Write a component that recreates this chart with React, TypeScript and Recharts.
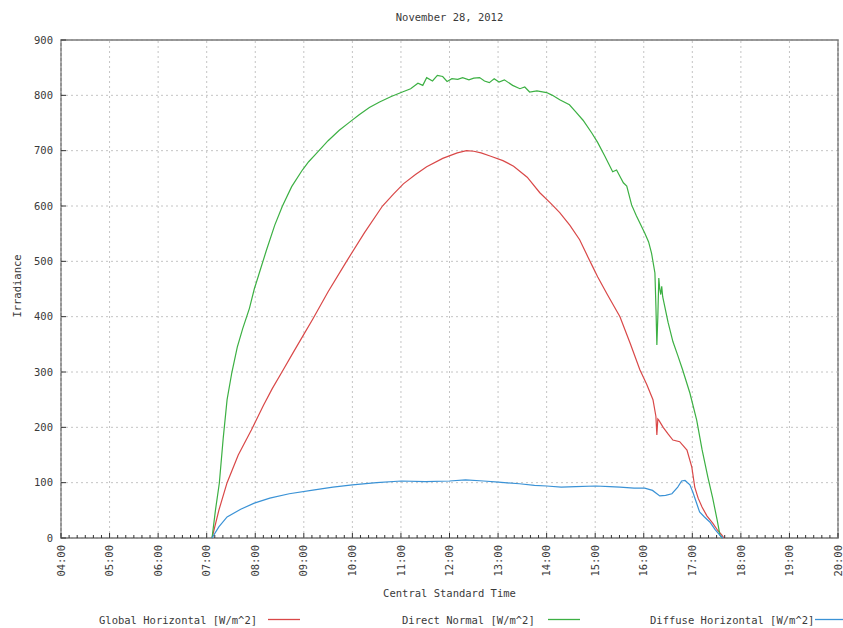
import React from 'react';
import {
  LineChart, Line, XAxis, YAxis, CartesianGrid, ReferenceLine, ReferenceArea,
} from 'recharts';

// ---- data (time in decimal hours, Central Standard Time) ----
const globalT = [7.11, 7.25, 7.42, 7.65, 7.92, 8.17, 8.35, 8.55, 8.78, 9.0, 9.18, 9.5, 9.88, 10.25, 10.62, 10.85, 11.05, 11.3, 11.53, 11.86, 12.16, 12.35, 12.5, 12.65, 12.85, 13.1, 13.32, 13.6, 13.86, 14.07, 14.27, 14.48, 14.68, 14.85, 14.95, 15.05, 15.25, 15.51, 15.72, 15.92, 16.06, 16.19, 16.25, 16.27, 16.29, 16.31, 16.4, 16.5, 16.6, 16.74, 16.89, 16.99, 17.05, 17.12, 17.2, 17.3, 17.42, 17.52, 17.61, 17.65];
const globalV = [0, 50, 100, 150, 195, 240, 270, 300, 335, 368, 395, 445, 500, 552, 600, 622, 640, 657, 671, 686, 696, 700, 699, 696, 690, 682, 672, 652, 624, 606, 588, 565, 539, 508, 490, 472, 440, 400, 352, 304, 278, 250, 220, 186, 215, 213, 200, 188, 177, 174, 159, 128, 92, 72, 56, 40, 27, 14, 5, 0];

const directT = [7.11, 7.18, 7.26, 7.34, 7.42, 7.52, 7.63, 7.74, 7.88, 7.98, 8.08, 8.23, 8.4, 8.56, 8.75, 8.97, 9.1, 9.26, 9.5, 9.73, 9.95, 10.14, 10.35, 10.56, 10.8, 11.03, 11.2, 11.35, 11.45, 11.53, 11.65, 11.75, 11.86, 11.95, 12.05, 12.17, 12.27, 12.4, 12.5, 12.62, 12.72, 12.82, 12.92, 13.02, 13.13, 13.3, 13.45, 13.55, 13.65, 13.8, 14.0, 14.12, 14.27, 14.47, 14.6, 14.75, 14.93, 15.05, 15.2, 15.36, 15.44, 15.5, 15.58, 15.65, 15.75, 15.85, 16.02, 16.1, 16.16, 16.23, 16.25, 16.27, 16.29, 16.31, 16.33, 16.35, 16.37, 16.39, 16.5, 16.6, 16.7, 16.8, 16.95, 17.09, 17.2, 17.32, 17.42, 17.51, 17.57, 17.62];
const directV = [0, 50, 99, 180, 250, 300, 345, 378, 415, 450, 478, 520, 565, 600, 635, 665, 680, 695, 718, 737, 752, 765, 778, 788, 798, 806, 812, 822, 818, 832, 826, 836, 834, 825, 830, 829, 832, 828, 831, 832, 826, 823, 830, 824, 828, 818, 812, 815, 806, 808, 805, 800, 792, 783, 770, 755, 732, 715, 690, 662, 665, 655, 642, 636, 602, 582, 551, 535, 515, 479, 420, 349, 400, 470, 450, 440, 455, 436, 390, 355, 330, 304, 262, 213, 160, 110, 72, 33, 5, 0];

const diffuseT = [7.11, 7.25, 7.42, 7.7, 7.98, 8.3, 8.7, 9.22, 9.6, 10.0, 10.5, 11.01, 11.5, 12.0, 12.33, 12.7, 13.01, 13.44, 13.75, 14.0, 14.3, 14.6, 15.01, 15.3, 15.51, 15.8, 16.02, 16.18, 16.33, 16.45, 16.58, 16.7, 16.78, 16.85, 16.95, 17.01, 17.08, 17.15, 17.25, 17.36, 17.47, 17.57, 17.63];
const diffuseV = [0, 20, 38, 52, 63, 72, 80, 87, 92, 96, 100, 103, 102, 103, 105, 103, 101, 98, 95, 94, 92, 93, 94, 93, 92, 90, 90, 86, 76, 77, 80, 92, 103, 104, 96, 83, 65, 47, 38, 29, 15, 5, 0];

const hourTicks = [4, 5, 6, 7, 8, 9, 10, 11, 12, 13, 14, 15, 16, 17, 18, 19, 20];
const hourLabels = ['04:00', '05:00', '06:00', '07:00', '08:00', '09:00', '10:00', '11:00', '12:00', '13:00', '14:00', '15:00', '16:00', '17:00', '18:00', '19:00', '20:00'];
const yTicks = [0, 100, 200, 300, 400, 500, 600, 700, 800, 900];

const title = 'November 28, 2012';
const xTitle = 'Central Standard Time';
const yTitle = 'Irradiance';
const seriesNames = ['Global Horizontal [W/m^2]', 'Direct Normal [W/m^2]', 'Diffuse Horizontal [W/m^2]'];
const seriesColors = ['#d94848', '#3cb043', '#3a92d6'];

// minor ticks every 10 minutes
const minorTicks: number[] = [];
for (let i = 0; i <= 96; i++) minorTicks.push(4 + i / 6);

const toRows = (t: number[], v: number[]) => t.map((tt, i) => ({ t: tt, v: v[i] }));
const globalData = toRows(globalT, globalV);
const directData = toRows(directT, directV);
const diffuseData = toRows(diffuseT, diffuseV);

const FONT = '"DejaVu Sans Mono", "Liberation Mono", monospace';
const TEXT = '#3a3a3a';
const FS = 10.5;

const isHour = (v: number) => Math.abs(v - Math.round(v)) < 1e-6;

const BottomTick = (props: any) => {
  const { x, y, payload } = props;
  const v = payload.value;
  const major = isHour(v);
  const idx = hourTicks.indexOf(Math.round(v));
  const ly = y + 7;
  return (
    <g>
      <line x1={x} x2={x} y1={y} y2={y - (major ? 5 : 3)} stroke="#333" strokeWidth={1} />
      {major && idx >= 0 && (
        <text x={x} y={ly} transform={`rotate(-90 ${x} ${ly})`} textAnchor="end" dy="0.35em"
          fontFamily={FONT} fontSize={FS} fill={TEXT}>{hourLabels[idx]}</text>
      )}
    </g>
  );
};

const TopTick = (props: any) => {
  const { x, y, payload } = props;
  const major = isHour(payload.value);
  return <line x1={x} x2={x} y1={y} y2={y + (major ? 5 : 3)} stroke="#333" strokeWidth={1} />;
};

const LeftTick = (props: any) => {
  const { x, y, payload } = props;
  return (
    <g>
      <line x1={x} x2={x + 5} y1={y} y2={y} stroke="#333" strokeWidth={1} />
      <text x={x - 8} y={y} textAnchor="end" dy="0.35em" fontFamily={FONT} fontSize={FS} fill={TEXT}>
        {payload.value}
      </text>
    </g>
  );
};

const legendX = [99, 402, 650];
const legendLineX = [268, 548, 815];

export default function App() {
  return (
    <div style={{ position: 'absolute', left: 0, top: 0, width: 843, height: 628, background: '#fff', overflow: 'hidden' }}>
      <LineChart width={843} height={628} margin={{ top: 40, right: 5, left: 0, bottom: 0 }}>
        <CartesianGrid vertical={false} stroke="#c4c4c4" strokeDasharray="2 3" />
        {hourTicks.map((h) => (
          <ReferenceLine key={h} x={h} stroke="#c4c4c4" strokeDasharray="2 3" />
        ))}
        <XAxis
          dataKey="t" type="number" domain={[4, 20]} ticks={minorTicks} interval={0}
          allowDataOverflow height={90} tickSize={0} tickMargin={0} axisLine={false} tickLine={false}
          tick={<BottomTick />}
          label={{ value: xTitle, position: 'insideBottom', offset: 31, style: { fontFamily: FONT, fontSize: FS, fill: TEXT } }}
        />
        <XAxis
          xAxisId="top" orientation="top" dataKey="t" type="number" domain={[4, 20]} ticks={minorTicks} interval={0}
          height={0} tickSize={0} tickMargin={0} axisLine={false} tickLine={false} tick={<TopTick />}
        />
        <YAxis
          type="number" domain={[0, 900]} ticks={yTicks} interval={0} width={61}
          tickSize={0} tickMargin={0} axisLine={false} tickLine={false} tick={<LeftTick />}
          label={{
            content: () => (
              <text x={17} y={286} transform="rotate(-90 17 286)" textAnchor="middle" dy="0.35em"
                fontFamily={FONT} fontSize={FS} fill={TEXT}>{yTitle}</text>
            ),
          }}
        />
        <ReferenceArea x1={4} x2={20} y1={0} y2={900} fill="none" stroke="#7a7a7a" strokeWidth={1.6} />
        <Line data={globalData} dataKey="v" type="linear" stroke={seriesColors[0]} strokeWidth={1.2} dot={false} isAnimationActive={false} />
        <Line data={directData} dataKey="v" type="linear" stroke={seriesColors[1]} strokeWidth={1.2} dot={false} isAnimationActive={false} />
        <Line data={diffuseData} dataKey="v" type="linear" stroke={seriesColors[2]} strokeWidth={1.2} dot={false} isAnimationActive={false} />
      </LineChart>
      <div style={{ position: 'absolute', left: 0, top: 9, width: 899, textAlign: 'center', fontFamily: FONT, fontSize: FS, color: TEXT, lineHeight: '16px' }}>
        {title}
      </div>
      {seriesNames.map((name, i) => (
        <React.Fragment key={name}>
          <div style={{ position: 'absolute', left: legendX[i], top: 612, fontFamily: FONT, fontSize: FS, color: TEXT, lineHeight: '16px', whiteSpace: 'pre' }}>
            {name}
          </div>
          <svg style={{ position: 'absolute', left: legendLineX[i], top: 616, overflow: 'visible' }} width={32} height={6}>
            <line x1={0} x2={32} y1={3.5} y2={3.5} stroke={seriesColors[i]} strokeWidth={1.3} />
          </svg>
        </React.Fragment>
      ))}
    </div>
  );
}
